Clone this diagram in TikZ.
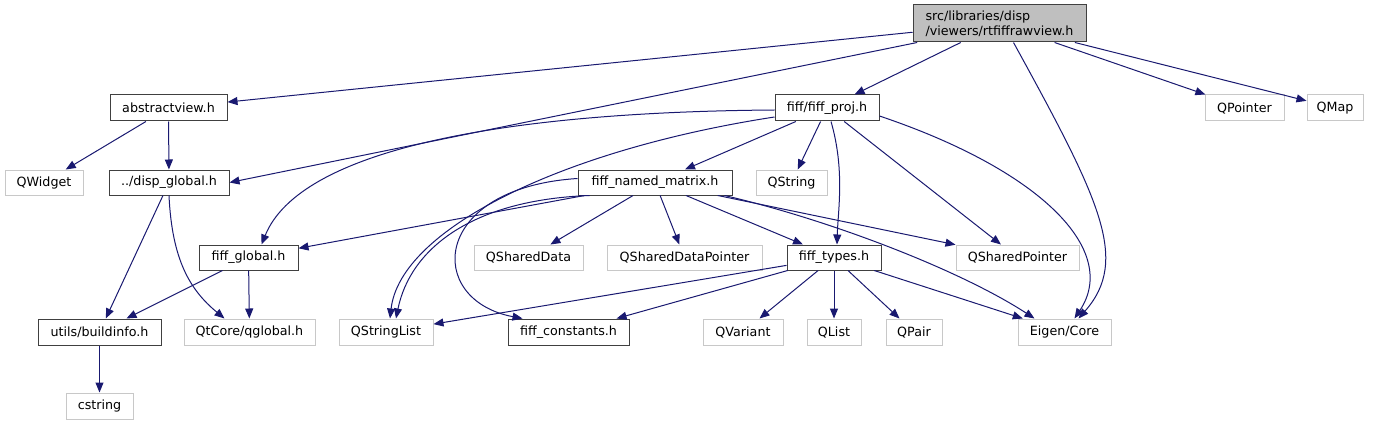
\documentclass[tikz,border=0pt]{standalone}
\usepackage{fontspec}
\setmainfont{DejaVu Sans}
\usetikzlibrary{arrows.meta}
\definecolor{edgec}{HTML}{191970}
\definecolor{docb}{HTML}{404040}
\definecolor{extb}{HTML}{C8C8C8}
\definecolor{rootf}{HTML}{BFBFBF}
\tikzset{
  box/.style={draw=docb, line width=1pt, inner sep=0pt, minimum height=25pt, font=\fontsize{12.7}{15}\selectfont},
  ext/.style={box, draw=extb},
  rootbox/.style={box, fill=rootf, align=left, minimum height=37pt, minimum width=173pt},
  edge/.style={draw=edgec, line width=1pt, -{Triangle[length=10pt,width=8pt]}}
}
\begin{document}
\begin{tikzpicture}[x=1pt,y=-1pt]
\useasboundingbox (0,0) rectangle (1373,425);
\node[rootbox] (root) at (999.5,23.5) {src/libraries/disp\\/viewers/rtfiffrawview.h};
\node[box, minimum width=117pt, minimum height=26pt] (av) at (168.5,108) {abstractview.h};
\node[ext, minimum width=78pt] (qw) at (44,182.5) {QWidget};
\node[box, minimum width=120pt] (dg) at (169,182.5) {../disp\_global.h};
\node[box, minimum width=104pt, minimum height=26pt] (fp) at (827,108) {fiff/fiff\_proj.h};
\node[box, minimum width=154pt] (nm) at (655,182.5) {fiff\_named\_matrix.h};
\node[ext, minimum width=71pt] (qs) at (791.5,182.5) {QString};
\node[box, minimum width=99pt] (fg) at (248.5,257.5) {fiff\_global.h};
\node[ext, minimum width=109pt] (qsd) at (528.5,257.5) {QSharedData};
\node[ext, minimum width=155pt] (qsdp) at (684.5,257.5) {QSharedDataPointer};
\node[box, minimum width=94pt] (ft) at (834,257.5) {fiff\_types.h};
\node[ext, minimum width=123pt] (qsp) at (1017.5,257.5) {QSharedPointer};
\node[box, minimum width=123pt, minimum height=26pt] (bi) at (99.5,332) {utils/buildinfo.h};
\node[ext, minimum width=131pt, minimum height=26pt] (qg) at (249.5,332) {QtCore/qglobal.h};
\node[ext, minimum width=94pt, minimum height=26pt] (qsl) at (386,332) {QStringList};
\node[box, minimum width=121pt, minimum height=26pt] (fc) at (568.5,332) {fiff\_constants.h};
\node[ext, minimum width=80pt, minimum height=26pt] (qv) at (743,332) {QVariant};
\node[ext, minimum width=54pt, minimum height=26pt] (ql) at (834,332) {QList};
\node[ext, minimum width=56pt, minimum height=26pt] (qp) at (914,332) {QPair};
\node[ext, minimum width=93pt, minimum height=26pt] (eig) at (1064.5,332) {Eigen/Core};
\node[ext, minimum width=67pt, minimum height=26pt] (cs) at (99.5,406) {cstring};
\node[ext, minimum width=79pt, minimum height=26pt] (qptr) at (1244.5,108) {QPointer};
\node[ext, minimum width=56pt, minimum height=26pt] (qm) at (1335,108) {QMap};

% root edges
\draw[edge] (root) -- (av);
\draw[edge] (root.193) -- (dg.east);
\draw[edge] (root) -- (fp);
\draw[edge] ([xshift=14pt]root.south) .. controls (1100,200) and (1130,260) .. ([xshift=14pt]eig.north);
\draw[edge] (root) -- (qptr);
\draw[edge] (root) -- (qm);
% abstractview
\draw[edge] (av) -- (qw);
\draw[edge] (av) -- (dg);
% disp_global
\draw[edge] (dg) -- (bi);
\draw[edge] (dg.south) .. controls (172,260) and (190,290) .. ([xshift=-25pt]qg.north);
% fiff_global
\draw[edge] (fg) -- (bi);
\draw[edge] (fg) -- (qg);
\draw[edge] (bi) -- (cs);
% fiff_proj
\draw[edge] ([yshift=-2pt]fp.west) .. controls (500,112) and (300,150) .. ([xshift=13pt]fg.north);
\draw[edge] ([yshift=-9pt]fp.west) .. controls (560,150) and (400,230) .. ([xshift=4pt]qsl.north);
\draw[edge] (fp) -- (nm);
\draw[edge] (fp) -- (qs);
\draw[edge] ([xshift=4pt]fp.south) .. controls (845,170) and (838,210) .. ([xshift=3pt]ft.north);
\draw[edge] (fp) -- (qsp);
\draw[edge] ([yshift=-8pt]fp.east) .. controls (1040,170) and (1120,250) .. ([xshift=10pt]eig.north);
% named matrix
\draw[edge] (nm) -- (fg);
\draw[edge] ([yshift=4pt]nm.west) .. controls (430,188) and (425,300) .. ([xshift=-46pt]fc.north);
\draw[edge] ([xshift=12pt]nm.south west) .. controls (470,200) and (410,250) .. ([xshift=10pt]qsl.north);
\draw[edge] (nm) -- (qsd);
\draw[edge] (nm) -- (qsdp);
\draw[edge] (nm) -- (ft);
\draw[edge] (nm) -- (qsp);
\draw[edge] ([xshift=-8pt]nm.south east) .. controls (830,220) and (960,270) .. ([xshift=-30pt]eig.north);
% fiff_types
\draw[edge] (ft) -- (qsl);
\draw[edge] (ft) -- (fc);
\draw[edge] (ft) -- (qv);
\draw[edge] (ft) -- (ql);
\draw[edge] (ft) -- (qp);
\draw[edge] (ft) -- (eig);
\end{tikzpicture}
\end{document}
